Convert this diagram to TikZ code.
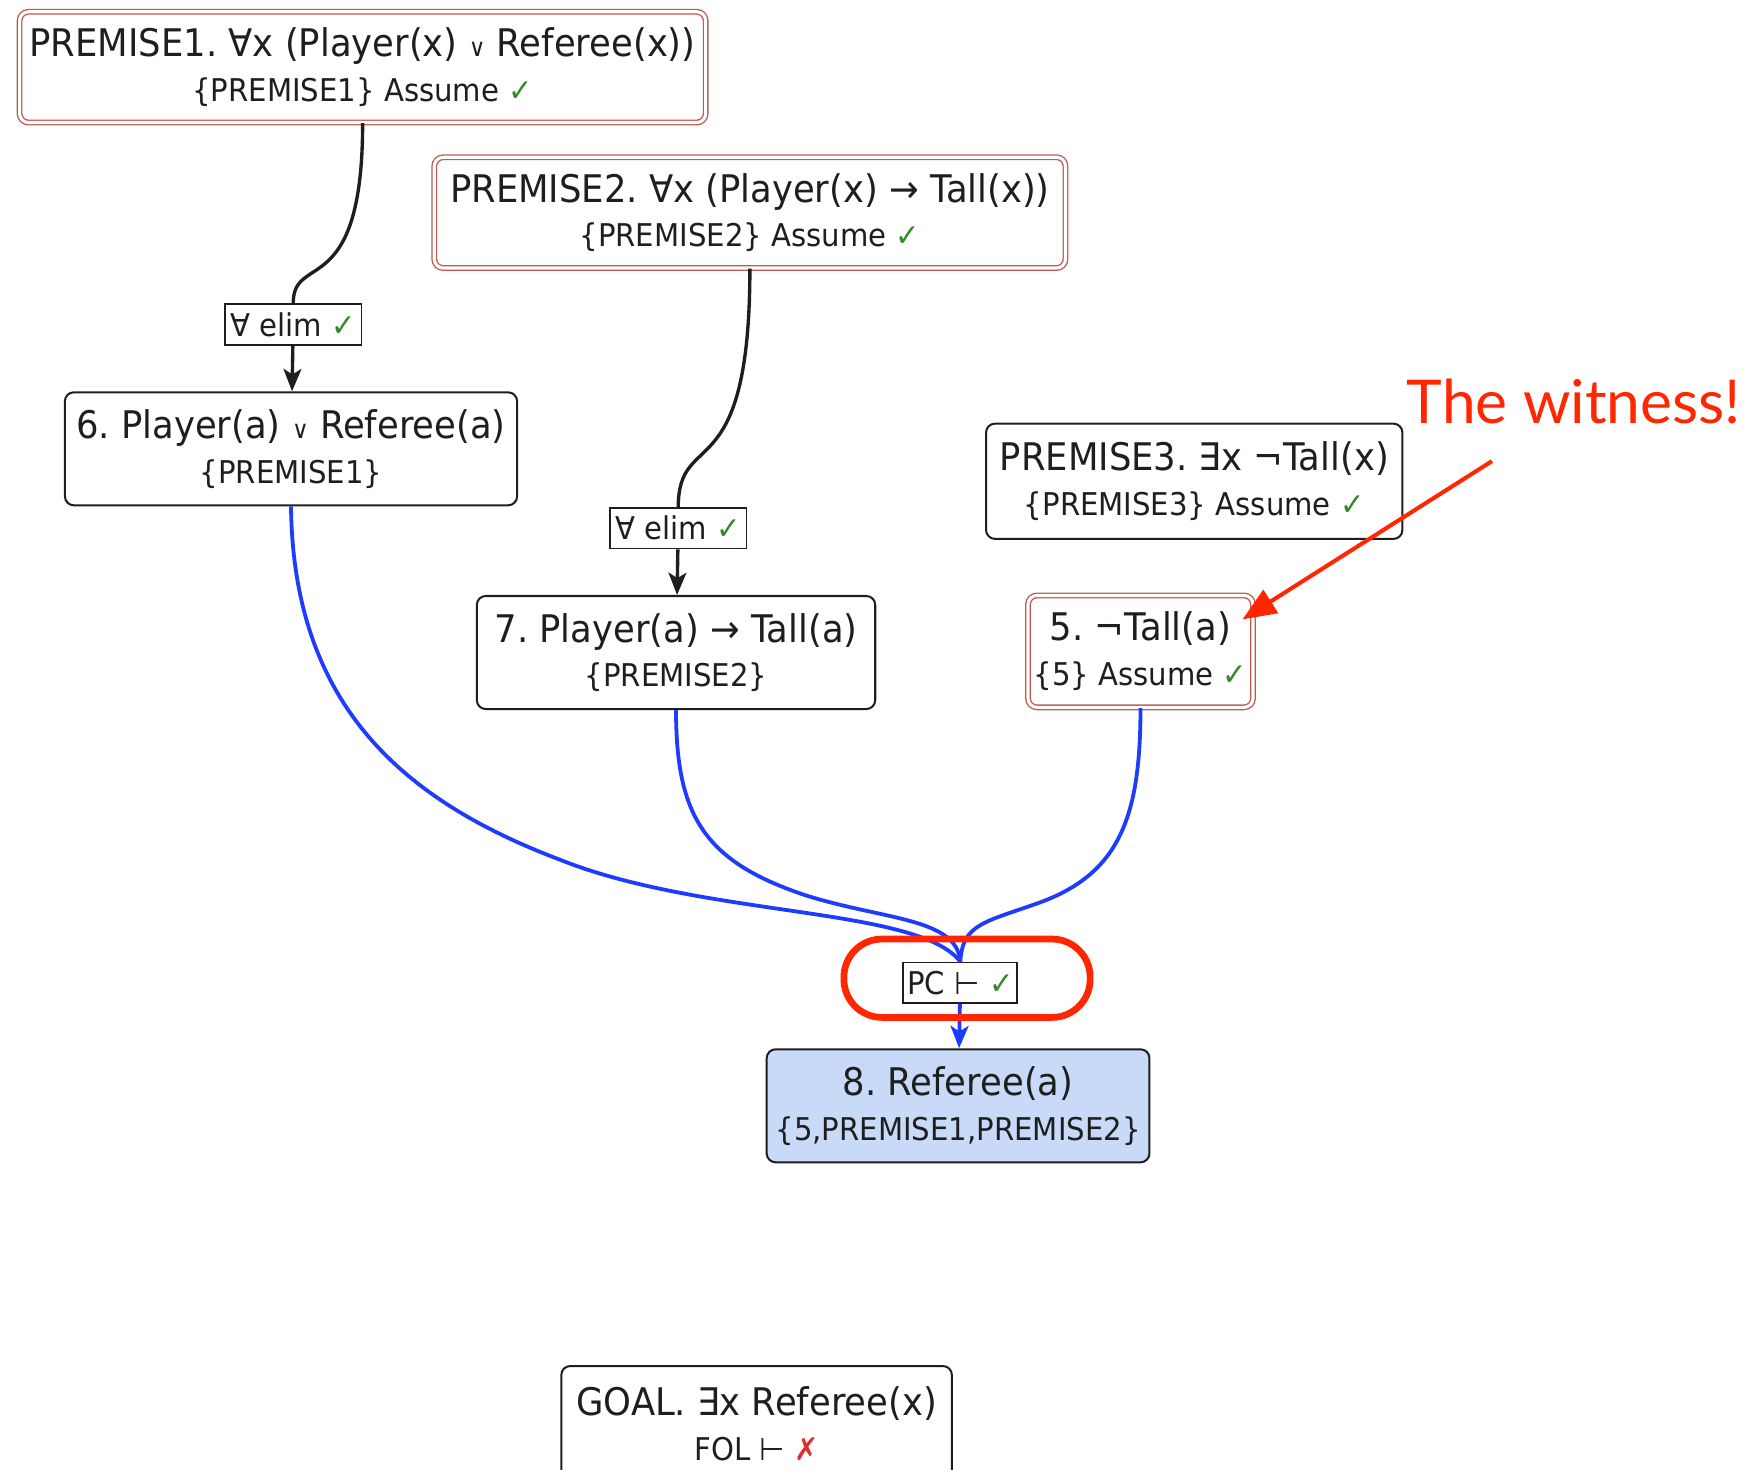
\documentclass[tikz,border=0pt]{standalone}
\usepackage{fontspec}
\setmainfont[FakeStretch=0.93]{DejaVu Sans}
\newfontfamily\witfont{Lato}
\usetikzlibrary{arrows.meta}

\definecolor{ink}{RGB}{30,30,30}
\definecolor{premred}{RGB}{192,88,80}
\definecolor{okgreen}{RGB}{50,140,40}
\definecolor{badred}{RGB}{225,45,45}
\definecolor{linkblue}{RGB}{30,60,255}
\definecolor{derivedfill}{RGB}{201,218,248}
\definecolor{alertred}{RGB}{255,38,0}

\newcommand{\linea}{\fontsize{17}{20}\selectfont}
\newcommand{\lineb}{\fontsize{14}{20}\selectfont}
\newcommand{\okmark}{\textcolor{okgreen}{✓}}
\newcommand{\badmark}{\textcolor{badred}{✗}}
\newcommand{\orsym}{{\fontsize{11}{11}\selectfont ∨}}

\begin{document}
\begin{tikzpicture}[x=0.5pt, y=-0.5pt,
    fact/.style={draw=ink, line width=0.9pt, rounded corners=4pt, fill=white, text=ink, align=center, inner sep=0pt, font=\linea},
    given/.style={fact, draw=premred, double=white, double distance=1.4pt, line width=0.6pt},
    derived/.style={fact, fill=derivedfill},
    rulebox/.style={draw=ink, line width=0.8pt, fill=white, text=ink, inner sep=0pt, font=\lineb},
    link/.style={line width=1.5pt, ink},
    flow/.style={line width=1.7pt, linkblue},
    arrow/.style={-{Stealth[length=10pt, width=8pt, inset=2.5pt]}},
    alert/.style={line width=1.8pt, alertred, -{Triangle[length=15pt, width=12pt]}}
]
    \useasboundingbox (0,0) rectangle (1560,1313);

    \node[given, minimum width=306.5pt, minimum height=49.5pt] (p1) at (324,60) {PREMISE1.\ ∀x (Player(x) \orsym\ Referee(x))\\ \lineb\{PREMISE1\} Assume \okmark};
    \node[given, minimum width=282pt, minimum height=49.5pt] (p2) at (670,190) {PREMISE2.\ ∀x (Player(x) → Tall(x))\\ \lineb\{PREMISE2\} Assume \okmark};
    \node[fact, minimum width=186pt, minimum height=51.5pt] (p3) at (1067,430) {PREMISE3.\ ∃x ¬Tall(x)\\ \lineb\{PREMISE3\} Assume \okmark};

    \node[rulebox, minimum width=61pt, minimum height=18.5pt] (r6) at (262,290) {∀ elim \okmark};
    \node[fact, minimum width=202pt, minimum height=50.5pt] (s6) at (260,401) {6.\ Player(a) \orsym\ Referee(a)\\ \lineb\{PREMISE1\}};
    \node[rulebox, minimum width=61pt, minimum height=18pt] (r7) at (606,472) {∀ elim \okmark};
    \node[fact, minimum width=178pt, minimum height=50.5pt] (s7) at (604,583) {7.\ Player(a) → Tall(a)\\ \lineb\{PREMISE2\}};
    \node[given, minimum width=100.5pt, minimum height=50pt] (s5) at (1019,582) {5.\ ¬Tall(a)\\ \lineb\{5\} Assume \okmark};

    \node[rulebox, minimum width=51pt, minimum height=18pt] (r8) at (858,878) {PC ⊢ \okmark};
    \node[derived, minimum width=171pt, minimum height=50.5pt] (s8) at (856,988) {8.\ Referee(a)\\ \lineb\{5,PREMISE1,PREMISE2\}};

    \node[fact, minimum width=174.5pt, minimum height=51.5pt] (goal) at (676,1272) {GOAL.\ ∃x Referee(x)\\ \lineb FOL ⊢ \badmark};

    \draw[link] (p1.south) .. controls (324,270) and (262,225) .. (r6.north);
    \draw[link, arrow] (r6) -- (s6);
    \draw[link] (p2.south) .. controls (670,440) and (606,381) .. (r7.north);
    \draw[link, arrow] (r7) -- (s7);

    \draw[flow] (s6.south) .. controls (262,630) and (360,715) .. (500,768) .. controls (630,820) and (820,810) .. (r8.north);
    \draw[flow] (s7.south) .. controls (604,730) and (630,770) .. (720,800) .. controls (790,822) and (855,820) .. (r8.north);
    \draw[flow] (s5.south) .. controls (1019,730) and (1000,780) .. (930,806) .. controls (880,824) and (860,825) .. (r8.north);
    \draw[flow, arrow] (r8) -- (s8);

    \node[draw=alertred, line width=3pt, rounded corners=17pt, minimum width=110pt, minimum height=35pt] (hl) at (864,874) {};

    \node[anchor=base east, inner sep=0pt, text=alertred, font=\witfont\fontsize{27}{30}\selectfont] (wit) at (1556,378) {The witness!};
    \coordinate (witfoot) at (1333,412);
    \draw[alert] (witfoot) -- ([xshift=-5pt, yshift=-11pt]s5.north east);
\end{tikzpicture}
\end{document}
